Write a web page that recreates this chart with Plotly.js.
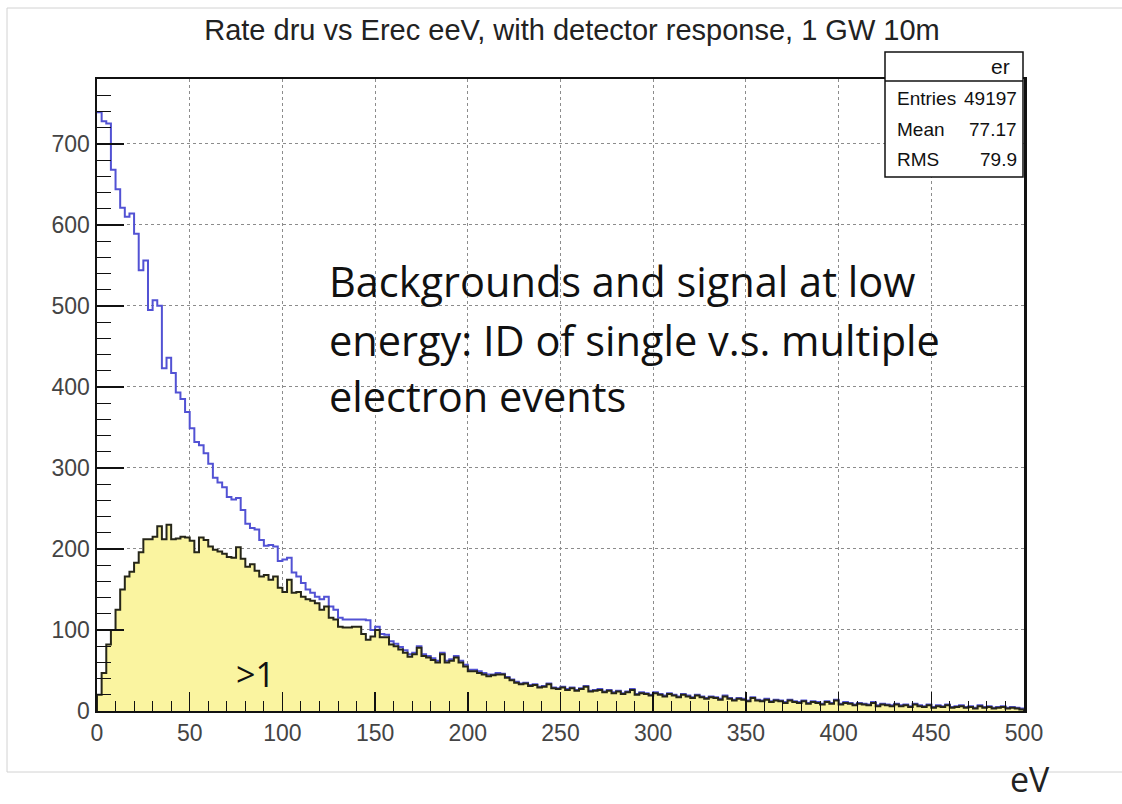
<!DOCTYPE html>
<html>
<head>
<meta charset="utf-8">
<script src="https://cdn.plot.ly/plotly-3.0.1.min.js"></script>
<style>
  html, body { margin: 0; padding: 0; background: #ffffff; }
  #chart { width: 1122px; height: 804px; }
</style>
</head>
<body>
<div id="chart"></div>
<script>
// ---------------- DATA ----------------
const chartTitle = "Rate dru vs Erec eeV, with detector response, 1 GW 10m";
const xUnit = "eV";
const binWidth = 2.5;            // eV per bin, 200 bins from 0 to 500 eV
const xTickVals = [0, 50, 100, 150, 200, 250, 300, 350, 400, 450, 500];
const yTickVals = [0, 100, 200, 300, 400, 500, 600, 700];

// all events (blue outline)
const totalRate = [
  739, 728, 725, 668, 644, 621, 610, 614, 589, 544,
  556, 495, 507, 500, 423, 436, 417, 393, 385, 369,
  349, 332, 328, 318, 305, 288, 282, 276, 264, 261,
  263, 248, 231, 226, 224, 211, 204, 205, 203, 185,
  187, 189, 171, 166, 158, 150, 146, 141, 138, 141,
  129, 125, 115, 113, 113, 113, 113, 113, 112, 100,
  104, 95, 94, 86, 83, 79, 75, 70, 72, 80,
  70, 68, 65, 62, 72, 62, 64, 68, 62, 57,
  51, 51, 49, 47, 45, 45, 47, 46, 42, 39,
  36, 34, 35, 32, 33, 30, 31, 34, 29, 28,
  30, 27, 29, 26, 28, 31, 25, 26, 27, 24,
  26, 23, 25, 22, 24, 27, 21, 23, 22, 20,
  23, 21, 19, 22, 20, 18, 21, 19, 17, 20,
  18, 16, 18, 17, 15, 19, 16, 14, 16, 15,
  13, 17, 14, 13, 15, 12, 14, 13, 11, 14,
  12, 11, 13, 10, 12, 11, 9, 12, 10, 14,
  9, 11, 10, 8, 10, 9, 8, 11, 7, 9,
  8, 7, 9, 7, 8, 6, 9, 7, 6, 8,
  5, 7, 6, 8, 5, 6, 7, 5, 6, 4,
  7, 5, 6, 4, 5, 6, 4, 5, 4, 3
];

// events with more than one electron (">1", yellow filled)
const multiRate = [
  20, 47, 82, 100, 125, 150, 166, 172, 183, 196,
  212, 212, 215, 228, 212, 230, 212, 213, 215, 214,
  210, 196, 214, 211, 203, 199, 197, 194, 190, 189,
  202, 188, 178, 181, 173, 166, 168, 162, 166, 152,
  147, 162, 146, 147, 141, 138, 136, 133, 125, 129,
  115, 113, 104, 103, 103, 104, 104, 95, 88, 92,
  100, 91, 91, 82, 80, 76, 72, 67, 70, 78,
  68, 66, 63, 60, 70, 60, 62, 66, 60, 55,
  49, 49, 47, 45, 43, 44, 45, 45, 41, 38,
  35, 33, 34, 31, 32, 29, 30, 33, 28, 27,
  29, 26, 28, 25, 27, 30, 24, 25, 26, 23,
  25, 22, 24, 21, 23, 26, 20, 22, 21, 19,
  22, 20, 18, 21, 19, 17, 20, 18, 16, 19,
  17, 15, 17, 16, 14, 18, 15, 13, 15, 14,
  12, 16, 13, 12, 14, 11, 13, 12, 10, 13,
  11, 10, 12, 9, 11, 10, 8, 11, 9, 13,
  8, 10, 9, 7, 9, 8, 7, 10, 6, 8,
  7, 6, 8, 6, 7, 5, 8, 6, 5, 7,
  4, 6, 5, 7, 4, 5, 6, 4, 5, 3,
  6, 4, 5, 3, 4, 5, 3, 4, 3, 2
];

const statsName = "er";
const statsLabels = ["Entries", "Mean", "RMS"];
const statsValues = ["49197", "77.17", "79.9"];
const noteLines = ["Backgrounds and signal at low", "energy: ID of single v.s. multiple", "electron events"];
const subsetLabel = ">1";

// ---------------- BUILD ----------------
function stepXY(vals, closeToZero) {
  const x = vals.map((_, i) => i * binWidth);
  const y = vals.slice();
  x.push(vals.length * binWidth);
  y.push(vals[vals.length - 1]);
  if (closeToZero) {
    x.unshift(0); y.unshift(0);
    x.push(vals.length * binWidth); y.push(0);
  }
  return { x, y };
}

const tot = stepXY(totalRate, false);
const mul = stepXY(multiRate, true);

const rootFont = "Liberation Sans, Arial, sans-serif";
const noteFont = "Open Sans, Noto Sans, sans-serif";

const traces = [
  {
    type: "scatter", mode: "lines", x: tot.x, y: tot.y,
    line: { shape: "hv", color: "#5252d4", width: 2 },
    hoverinfo: "skip", showlegend: false
  },
  {
    type: "scatter", mode: "lines", x: mul.x, y: mul.y,
    line: { shape: "hv", color: "#262619", width: 2 },
    fill: "tozeroy", fillcolor: "#faf4a0",
    hoverinfo: "skip", showlegend: false
  }
];

// pixel helpers for paper coordinates (plot area: x 97..1024, y 79..711)
const PL = 97, PR = 1024, PT = 79, PB = 711;
const px = v => (v - PL) / (PR - PL);
const py = v => (PB - v) / (PB - PT);

const annotations = [];
noteLines.forEach((t, i) => {
  annotations.push({
    xref: "paper", yref: "paper", x: px(327), y: py([281, 340, 396][i]),
    xanchor: "left", yanchor: "middle", showarrow: false,
    text: t, font: { family: noteFont, size: 41.5, color: "#111111" }
  });
});
annotations.push({
  xref: "paper", yref: "paper", x: px(234), y: py(674),
  xanchor: "left", yanchor: "middle", showarrow: false,
  text: subsetLabel, font: { family: noteFont, size: 34, color: "#111111" }
});
annotations.push({
  xref: "paper", yref: "paper", x: px(1008), y: py(779),
  xanchor: "left", yanchor: "middle", showarrow: false,
  text: xUnit, font: { family: noteFont, size: 34, color: "#222222" }
});
// stats box texts
annotations.push({
  xref: "paper", yref: "paper", x: px(1012), y: py(67),
  xanchor: "right", yanchor: "middle", showarrow: false,
  text: statsName, font: { family: rootFont, size: 21, color: "#111111" }
});
statsLabels.forEach((lab, i) => {
  const yc = [99, 129, 159][i];
  annotations.push({
    xref: "paper", yref: "paper", x: px(895), y: py(yc),
    xanchor: "left", yanchor: "middle", showarrow: false,
    text: lab, font: { family: rootFont, size: 19, color: "#111111" }
  });
  annotations.push({
    xref: "paper", yref: "paper", x: px(1019), y: py(yc),
    xanchor: "right", yanchor: "middle", showarrow: false,
    text: statsValues[i], font: { family: rootFont, size: 19, color: "#111111" }
  });
});

const shapes = [
  // canvas border
  { type: "rect", xref: "paper", yref: "paper", x0: px(7), x1: px(1140), y0: py(772), y1: py(8),
    line: { color: "#d2d2d2", width: 1 }, fillcolor: "rgba(0,0,0,0)", layer: "below" },
  // stats box
  { type: "rect", xref: "paper", yref: "paper", x0: px(885), x1: px(1023), y0: py(177), y1: py(52),
    line: { color: "#111111", width: 1.5 }, fillcolor: "#ffffff", layer: "above" },
  { type: "line", xref: "paper", yref: "paper", x0: px(885), x1: px(1023), y0: py(81), y1: py(81),
    line: { color: "#111111", width: 1.5 }, layer: "above" }
];

const layout = {
  width: 1122, height: 804,
  margin: { l: PL, r: 1122 - PR, t: PT, b: 804 - PB },
  paper_bgcolor: "#ffffff", plot_bgcolor: "#ffffff",
  showlegend: false,
  title: {
    text: chartTitle, xref: "container", yref: "container",
    x: 572 / 1122, y: 1 - 30 / 804, xanchor: "center", yanchor: "middle",
    font: { family: rootFont, size: 29, color: "#222222" }
  },
  xaxis: {
    range: [0, 500], tickvals: xTickVals, ticktext: xTickVals.map(String),
    ticks: "inside", ticklen: 19, tickwidth: 1.5, tickcolor: "#111111",
    minor: { dtick: 10, tick0: 0, ticks: "inside", ticklen: 10, tickwidth: 1, tickcolor: "#111111", showgrid: false },
    showgrid: true, gridcolor: "#8c8c8c", griddash: "dot", gridwidth: 1,
    showline: true, linecolor: "#111111", linewidth: 2, mirror: true,
    zeroline: false,
    tickfont: { family: rootFont, size: 23, color: "#444444" }
  },
  yaxis: {
    range: [0, 780], tickvals: yTickVals, ticktext: yTickVals.map(String),
    ticks: "inside", ticklen: 27, tickwidth: 1.5, tickcolor: "#111111",
    minor: { dtick: 20, tick0: 0, ticks: "inside", ticklen: 14, tickwidth: 1, tickcolor: "#111111", showgrid: false },
    showgrid: true, gridcolor: "#8c8c8c", griddash: "dot", gridwidth: 1,
    showline: true, linecolor: "#111111", linewidth: 2.5, mirror: true,
    zeroline: false,
    tickfont: { family: rootFont, size: 23, color: "#444444" }
  },
  annotations: annotations,
  shapes: shapes
};

Plotly.newPlot("chart", traces, layout, { staticPlot: true, displayModeBar: false });
</script>
</body>
</html>
